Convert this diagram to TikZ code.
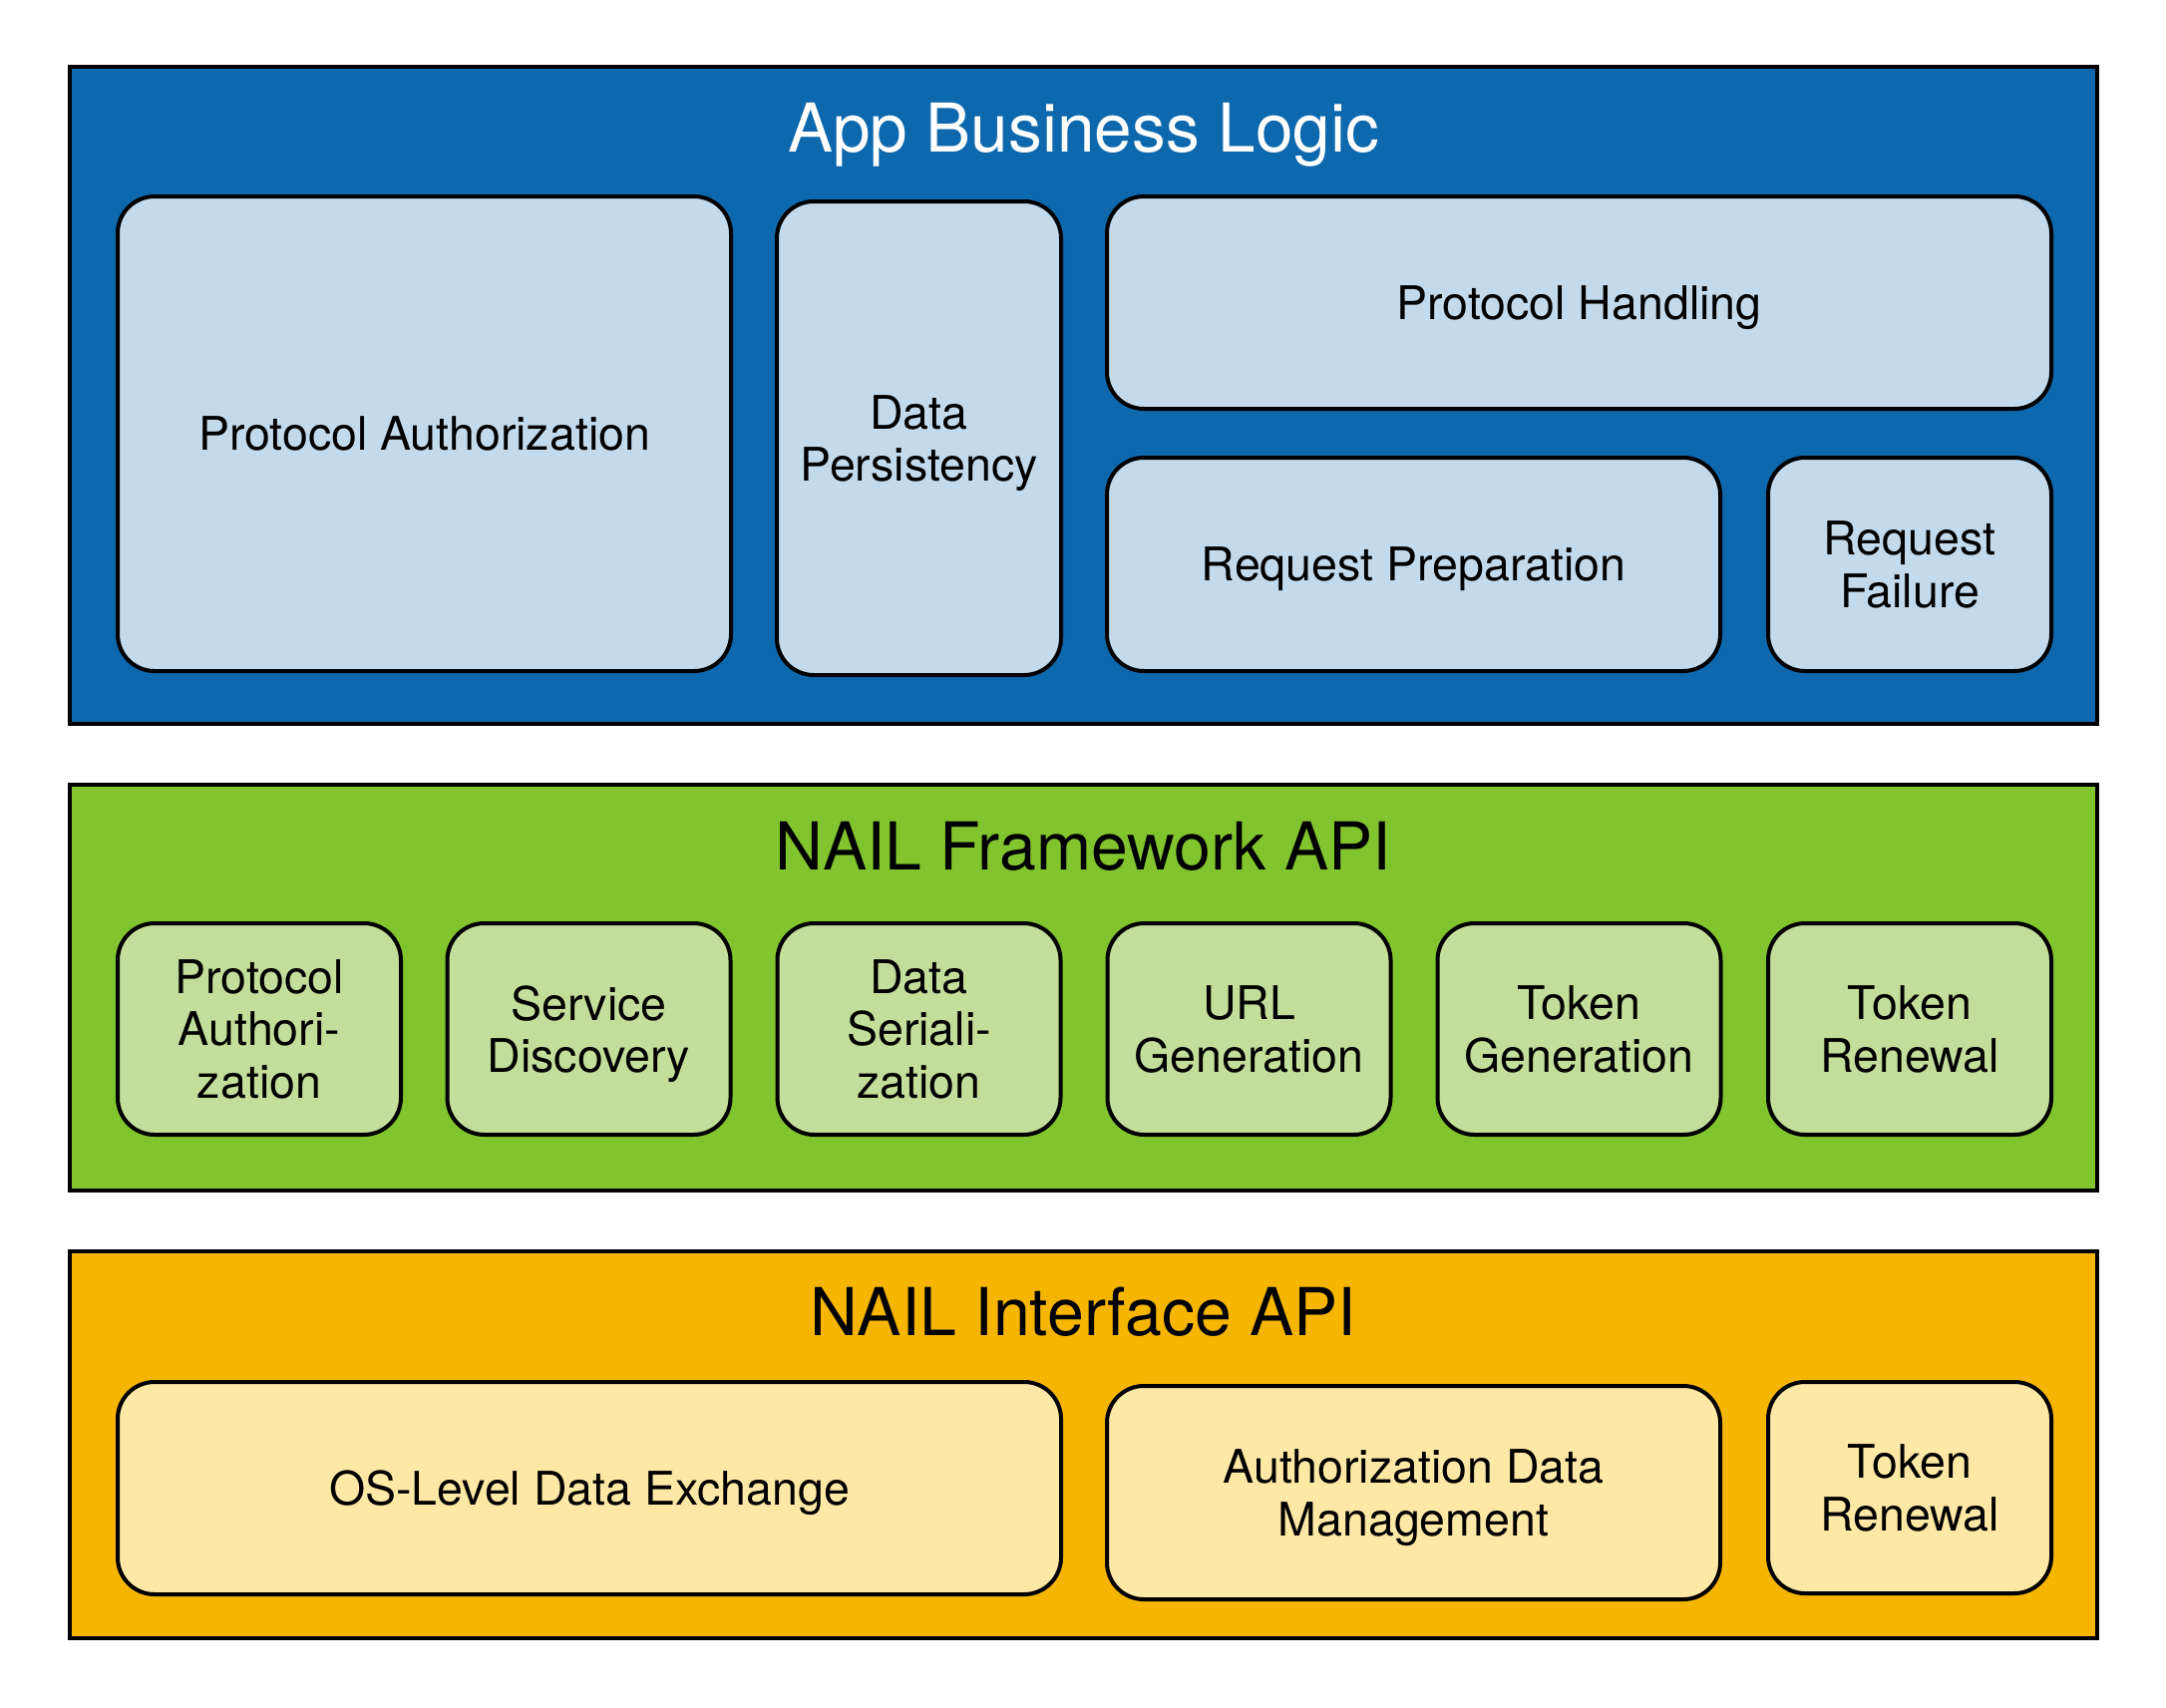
\documentclass[tikz,border=0pt]{standalone}
\usepackage{fontspec}
\setmainfont{TeX Gyre Heros}
\definecolor{bluebg}{HTML}{0D68AD}
\definecolor{bluein}{HTML}{C3DAEC}
\definecolor{greenbg}{HTML}{82C42E}
\definecolor{greenin}{HTML}{C3DE9B}
\definecolor{orangebg}{HTML}{F6B500}
\definecolor{orangein}{HTML}{FEE8A6}
\tikzset{
  layer/.style={draw=black, line width=3.3pt, rectangle, inner sep=0pt},
  ibox/.style={draw=black, line width=4pt, rectangle, rounded corners=37pt, inner sep=0pt, align=center,
    text depth=0pt, font=\fontsize{46.5}{52.5}\selectfont, text=black},
  ltitle/.style={anchor=base, inner sep=0pt, font=\fontsize{67.5}{78}\selectfont},
  ltitlesm/.style={ltitle, font=\fontsize{66.2}{78}\selectfont},
}
\begin{document}
\begin{tikzpicture}[x=1pt,y=-1pt]
\useasboundingbox (0,0) rectangle (2172,1713);
% layers
\node[layer, fill=bluebg, minimum width=2033pt, minimum height=659pt] (L1) at (1086.5,396.5) {};
\node[layer, fill=greenbg, minimum width=2033pt, minimum height=407pt] (L2) at (1086.5,990.5) {};
\node[layer, fill=orangebg, minimum width=2033pt, minimum height=388pt] (L3) at (1086.5,1449) {};
% titles
\node[ltitle, text=white] (T1) at (1086.5,152) {App Business Logic};
\node[ltitlesm, text=black] (T2) at (1086.5,872) {NAIL Framework API};
\node[ltitlesm, text=black] (T3) at (1086.5,1339) {NAIL Interface API};
% App Business Logic
\node[ibox, fill=bluein, minimum width=615pt, minimum height=476pt] (pa) at (425.5,435) {Protocol Authorization};
\node[ibox, fill=bluein, minimum width=285pt, minimum height=475pt] (dp) at (921.5,439.5) {Data\\Persistency};
\node[ibox, fill=bluein, minimum width=947pt, minimum height=213pt] (ph) at (1583.5,303.5) {Protocol Handling};
\node[ibox, fill=bluein, minimum width=615pt, minimum height=214pt] (rp) at (1417.5,566) {Request Preparation};
\node[ibox, fill=bluein, minimum width=284pt, minimum height=214pt] (rf) at (1915,566) {Request\\Failure};
% NAIL Framework API
\node[ibox, fill=greenin, minimum width=284pt, minimum height=212pt] (g1) at (260,1032) {Protocol\\Authori-\\zation};
\node[ibox, fill=greenin, minimum width=284pt, minimum height=212pt] (g2) at (590.5,1032) {Service\\Discovery};
\node[ibox, fill=greenin, minimum width=284pt, minimum height=212pt] (g3) at (921.5,1032) {Data\\Seriali-\\zation};
\node[ibox, fill=greenin, minimum width=284pt, minimum height=212pt] (g4) at (1252.5,1032) {URL\\Generation};
\node[ibox, fill=greenin, minimum width=284pt, minimum height=212pt] (g5) at (1583.5,1032) {Token\\Generation};
\node[ibox, fill=greenin, minimum width=284pt, minimum height=212pt] (g6) at (1915,1032) {Token\\Renewal};
% NAIL Interface API
\node[ibox, fill=orangein, minimum width=946pt, minimum height=213pt] (os) at (591,1492.5) {OS-Level Data Exchange};
\node[ibox, fill=orangein, minimum width=615pt, minimum height=214pt] (adm) at (1417.5,1497) {Authorization Data\\Management};
\node[ibox, fill=orangein, minimum width=284pt, minimum height=212pt] (tr) at (1915,1492) {Token\\Renewal};
\end{tikzpicture}
\end{document}
